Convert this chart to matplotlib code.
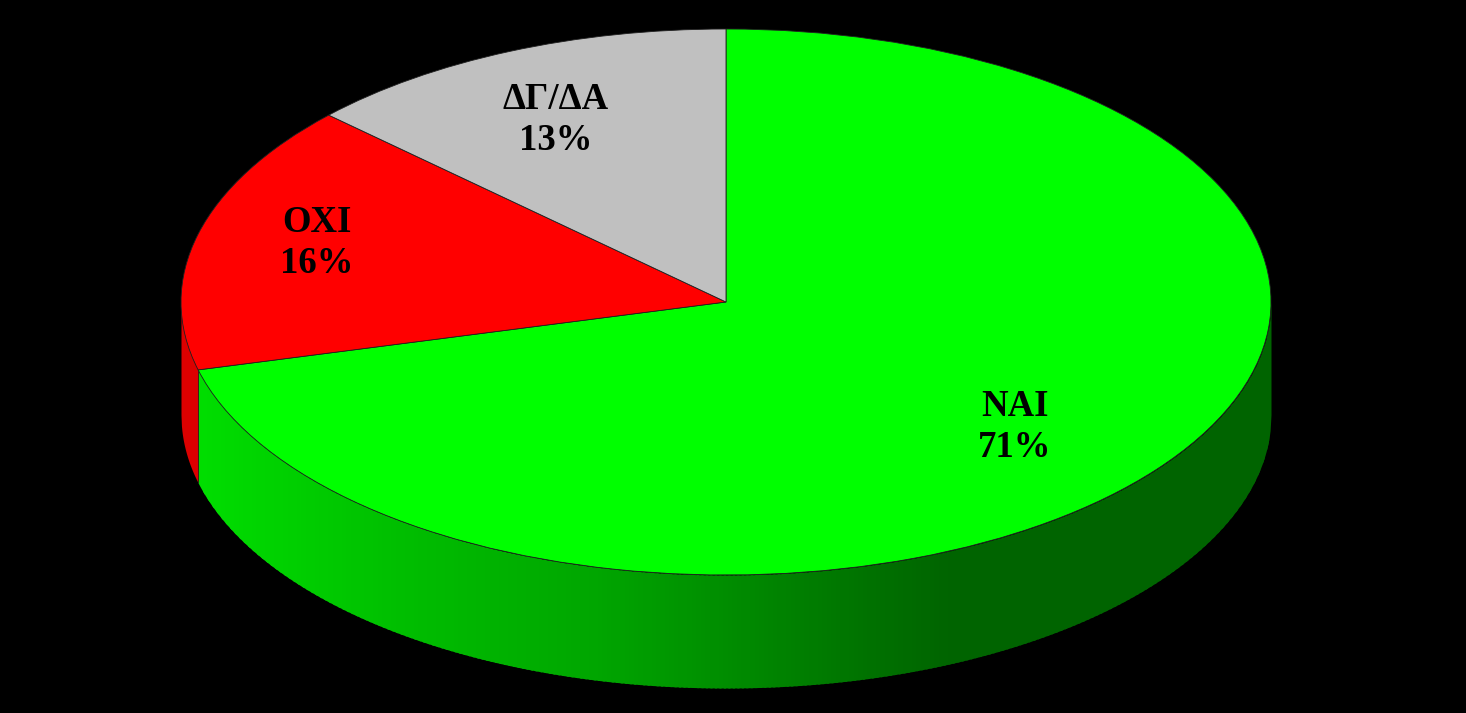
import numpy as np
import matplotlib
matplotlib.use("Agg")
import matplotlib.pyplot as plt

labels = ["ΝΑΙ", "ΟΧΙ", "ΔΓ/ΔΑ"]
values = [71, 16, 13]
top_colors = ["#00ff00", "#ff0000", "#c0c0c0"]

# green level of the side wall, read along the rim
wall_px = [197, 400, 600, 730, 860, 950, 1271]
wall_green = [222, 190, 165, 140, 115, 100, 100]

W, H = 1466, 713
cx, cy = 726, 302
rx, ry = 545, 273
depth = 113 / ry

plt.rcParams["font.family"] = ["Liberation Serif", "DejaVu Serif"]

fig = plt.figure(figsize=(W / 100, H / 100), dpi=100, facecolor="black")
ax = fig.add_axes([0, 0, 1, 1])

ax.pie(values, colors=top_colors, startangle=90, counterclock=False, radius=1,
       wedgeprops={"edgecolor": "#202020", "linewidth": 0.6, "zorder": 5})
ax.set_aspect("auto")
ax.set_xlim(-cx / rx, (W - cx) / rx)
ax.set_ylim(-(H - cy) / ry, cy / ry)
ax.axis("off")

# where the red/green edge meets the rim
ang = np.deg2rad(90 - 360 * values[0] / sum(values))
xb = np.cos(ang)


def shade(x):
    g = np.interp(cx + x * rx, wall_px, wall_green)
    return (0, g / 255, 0)


# strips overlap the next one so no seams show
xs = np.linspace(xb, 1, 240)
for x0, x1 in zip(xs[:-1], xs[1:]):
    xx = np.linspace(x0, min(x1 + 0.004, 1), 6)
    top = -np.sqrt(1 - xx**2)
    ax.fill_between(xx, top - depth, top, color=shade((x0 + x1) / 2), lw=0, zorder=1)

xx = np.linspace(-1, xb, 40)
top = -np.sqrt(1 - xx**2)
ax.fill_between(xx, top - depth, top, color="#dc0000", lw=0, zorder=1)
ax.plot([xb, xb], [np.sin(ang), np.sin(ang) - depth], color="#202020", lw=0.5, zorder=2)

text_pos = [(1015, 427), (317, 243), (556, 120)]
for lab, val, (px, py) in zip(labels, values, text_pos):
    fig.text(px / W, 1 - py / H, f"{lab}\n{val}%", ha="center", va="center",
             fontsize=26.5, fontweight="bold", color="black", linespacing=1.22, zorder=10)

fig.savefig("out.png", dpi=100, facecolor="black")
